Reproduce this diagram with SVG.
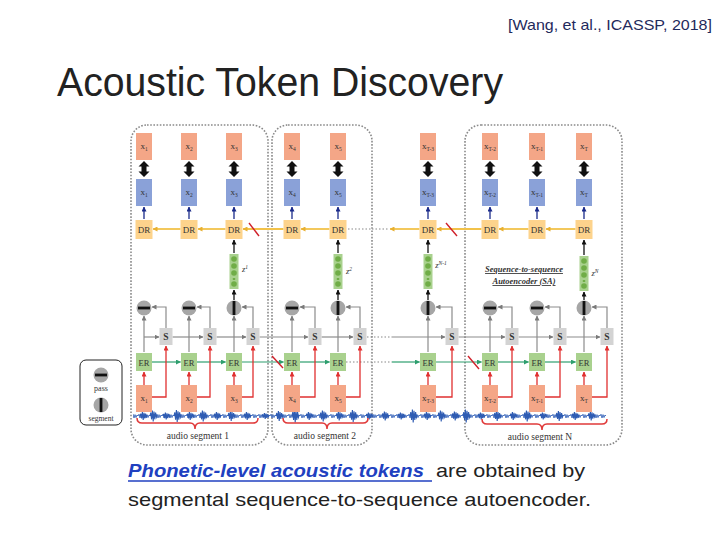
<svg xmlns="http://www.w3.org/2000/svg" xmlns:xlink="http://www.w3.org/1999/xlink" width="720" height="540" viewBox="0 0 720 540">
<style>
.ser{font-family:"Liberation Serif","DejaVu Serif",serif;fill:#333;text-anchor:middle}
.lb{font-size:9px}
.sub{font-size:5.5px}
.xo{fill:#f4a687}
.xb{fill:#8aa1d8}
.dr{fill:#fdd38c}
.er{fill:#a9d18e}
.sb{fill:#d3d3d3}
.zv{fill:#a9d18e}
.zd{fill:#70ad47}
.cir{fill:#a6a6a6}
.bar{fill:#111}
.seg{fill:none;stroke:#8a8a8a;stroke-width:1.6;stroke-dasharray:1.6 1.6}
.dots{fill:none;stroke:#888;stroke-width:1.2;stroke-dasharray:1.5 2}
.yl{stroke:#f2c24a;stroke-width:1.8;fill:none;marker-end:url(#ay)}
.gy{stroke:#8c8c8c;stroke-width:1.2;fill:none;marker-end:url(#ag)}
.gr{stroke:#2e9e6e;stroke-width:1.2;fill:none;marker-end:url(#agr)}
.rd{stroke:#e03030;stroke-width:1.3;fill:none;marker-end:url(#ar)}
.bk{stroke:#111;stroke-width:1.3;fill:none;marker-end:url(#ab)}
.nv{stroke:#1a2a8a;stroke-width:1.3;fill:none;marker-end:url(#an)}
.sl{stroke:#d0202a;stroke-width:1.4}
.dbl{fill:#111}
.wv{fill:none;stroke:#2f5cb3;stroke-width:1.1}
.br{fill:none;stroke:#e03a3a;stroke-width:1.5}
</style>
<defs>
<marker id="ay" viewBox="0 0 10 10" refX="9" refY="5" markerUnits="userSpaceOnUse" markerWidth="5" markerHeight="5" orient="auto"><path d="M0,0 L10,5 L0,10 Z" fill="#e8b030"/></marker>
<marker id="ag" viewBox="0 0 10 10" refX="9" refY="5" markerUnits="userSpaceOnUse" markerWidth="5" markerHeight="5" orient="auto"><path d="M0,0 L10,5 L0,10 Z" fill="#7a7a7a"/></marker>
<marker id="agr" viewBox="0 0 10 10" refX="9" refY="5" markerUnits="userSpaceOnUse" markerWidth="5" markerHeight="5" orient="auto"><path d="M0,0 L10,5 L0,10 Z" fill="#2e9e6e"/></marker>
<marker id="ar" viewBox="0 0 10 10" refX="9" refY="5" markerUnits="userSpaceOnUse" markerWidth="5" markerHeight="5" orient="auto"><path d="M0,0 L10,5 L0,10 Z" fill="#e03030"/></marker>
<marker id="ab" viewBox="0 0 10 10" refX="9" refY="5" markerUnits="userSpaceOnUse" markerWidth="5" markerHeight="5" orient="auto"><path d="M0,0 L10,5 L0,10 Z" fill="#111"/></marker>
<marker id="an" viewBox="0 0 10 10" refX="9" refY="5" markerUnits="userSpaceOnUse" markerWidth="5" markerHeight="5" orient="auto"><path d="M0,0 L10,5 L0,10 Z" fill="#1a2a8a"/></marker>
<pattern id="wvp" x="0" y="411" width="6" height="10" patternUnits="userSpaceOnUse"><path d="M0,5 L1,3.2 L2,7 L3,3.6 L4,6.6 L5,4 L6,5" fill="none" stroke="#3a66bb" stroke-width="0.9"/></pattern>
<path id="burst" d="M0,0 l0.8,-3 l0.8,6 l0.8,-8 l0.8,10 l0.8,-9 l0.8,7 l0.8,-6 l0.8,4 l0.8,-2" class="wv"/>
<g id="zvec"><rect x="-4.5" y="0" width="9" height="35" class="zv"/><circle cx="0" cy="5" r="2.8" class="zd"/><circle cx="0" cy="12" r="2.8" class="zd"/><circle cx="0" cy="19" r="2.8" class="zd"/><rect x="-1.2" y="24" width="2.4" height="2" class="zd"/><circle cx="0" cy="30" r="2.8" class="zd"/></g>
<g id="pass"><circle r="7.5" class="cir"/><rect x="-6" y="-1.4" width="12" height="2.8" class="bar"/></g>
<g id="segc"><circle r="7.5" class="cir"/><rect x="-1.4" y="-7" width="2.8" height="14" class="bar"/></g>
</defs>

<rect width="720" height="540" fill="#fff"/>

<text x="508" y="30" font-family="Liberation Sans, Arial, sans-serif" font-size="15" fill="#1f2a5c" textLength="204" lengthAdjust="spacingAndGlyphs">[Wang, et al., ICASSP, 2018]</text>
<text x="57" y="96" font-family="Liberation Sans, Arial, sans-serif" font-size="40" fill="#222" textLength="446" lengthAdjust="spacingAndGlyphs">Acoustic Token Discovery</text>

<!-- segment frames -->
<g id="frames">
<rect x="131" y="125" width="137" height="320" rx="16" class="seg"/>
<rect x="272" y="125" width="100" height="320" rx="16" class="seg"/>
<rect x="465" y="125" width="157" height="320" rx="16" class="seg"/>
</g>

<!-- waveform -->
<g id="waveform">
<rect x="133" y="411" width="473" height="10" fill="url(#wvp)"/>
<use xlink:href="#burst" transform="translate(140,416) scale(1,0.8)"/>
<use xlink:href="#burst" transform="translate(150,416) scale(1,1.1)"/>
<use xlink:href="#burst" transform="translate(163,416) scale(1,0.7)"/>
<use xlink:href="#burst" transform="translate(174,416) scale(1,1.2)"/>
<use xlink:href="#burst" transform="translate(187,416) scale(1,0.8)"/>
<use xlink:href="#burst" transform="translate(200,416) scale(1,1.1)"/>
<use xlink:href="#burst" transform="translate(214,416) scale(1,0.8)"/>
<use xlink:href="#burst" transform="translate(228,416) scale(1,1.0)"/>
<use xlink:href="#burst" transform="translate(244,416) scale(1,0.8)"/>
<use xlink:href="#burst" transform="translate(262,416) scale(1,0.6)"/>
<use xlink:href="#burst" transform="translate(276,416) scale(1,1.0)"/>
<use xlink:href="#burst" transform="translate(292,416) scale(1,1.3)"/>
<use xlink:href="#burst" transform="translate(306,416) scale(1,0.8)"/>
<use xlink:href="#burst" transform="translate(320,416) scale(1,1.1)"/>
<use xlink:href="#burst" transform="translate(336,416) scale(1,0.9)"/>
<use xlink:href="#burst" transform="translate(350,416) scale(1,1.2)"/>
<use xlink:href="#burst" transform="translate(366,416) scale(1,0.7)"/>
<use xlink:href="#burst" transform="translate(382,416) scale(1,0.9)"/>
<use xlink:href="#burst" transform="translate(398,416) scale(1,0.7)"/>
<use xlink:href="#burst" transform="translate(410,416) scale(1,1.3)"/>
<use xlink:href="#burst" transform="translate(424,416) scale(1,0.8)"/>
<use xlink:href="#burst" transform="translate(438,416) scale(1,1.1)"/>
<use xlink:href="#burst" transform="translate(452,416) scale(1,0.9)"/>
<use xlink:href="#burst" transform="translate(463,416) scale(1,1.3)"/>
<use xlink:href="#burst" transform="translate(478,416) scale(1,0.7)"/>
<use xlink:href="#burst" transform="translate(494,416) scale(1,1.0)"/>
<use xlink:href="#burst" transform="translate(510,416) scale(1,0.8)"/>
<use xlink:href="#burst" transform="translate(524,416) scale(1,1.1)"/>
<use xlink:href="#burst" transform="translate(540,416) scale(1,0.7)"/>
<use xlink:href="#burst" transform="translate(556,416) scale(1,1.0)"/>
<use xlink:href="#burst" transform="translate(572,416) scale(1,0.8)"/>
<use xlink:href="#burst" transform="translate(588,416) scale(1,0.9)"/>
</g>

<!-- braces and labels -->
<g id="seg-label-1">
<path class="br" d="M137,418 Q137,423 142,423 L190,423 Q195,423 195,429 Q195,423 200,423 L253,423 Q258,423 258,418"/>
<text x="198" y="439" class="ser" font-size="9.5">audio segment 1</text>
</g>
<g id="seg-label-2">
<path class="br" d="M283,418 Q283,423 288,423 L322,423 Q327,423 327,429 Q327,423 332,423 L363,423 Q368,423 368,418"/>
<text x="325" y="439" class="ser" font-size="9.5">audio segment 2</text>
</g>
<g id="seg-label-N">
<path class="br" d="M482,419 Q482,424 487,424 L537,424 Q542,424 542,430 Q542,424 547,424 L602,424 Q607,424 607,419"/>
<text x="540" y="440" class="ser" font-size="9.5">audio segment N</text>
</g>

<!-- legend -->
<g id="legend">
<rect x="80" y="360" width="42" height="65" rx="6" fill="#fff" stroke="#222" stroke-width="1"/>
<use xlink:href="#pass" x="101" y="375"/>
<text x="101" y="391" class="ser" font-size="8">pass</text>
<use xlink:href="#segc" x="101" y="405"/>
<text x="101" y="421" class="ser" font-size="7.5">segment</text>
</g>

<!-- SA label -->
<g id="sa-label">
<text x="524" y="272" class="ser" font-size="8.5" font-style="italic" font-weight="bold" text-decoration="underline">Sequence-to-sequence</text>
<text x="524" y="284" class="ser" font-size="8.5" font-style="italic" font-weight="bold" text-decoration="underline">Autoencoder (SA)</text>
</g>

<!-- connectors -->
<g id="connectors">
<path class="dbl" d="M144,161 l5.5,5.5 h-3 v5 h3 l-5.5,5.5 l-5.5,-5.5 h3 v-5 h-3 z"/>
<path class="dbl" d="M189,161 l5.5,5.5 h-3 v5 h3 l-5.5,5.5 l-5.5,-5.5 h3 v-5 h-3 z"/>
<path class="dbl" d="M234,161 l5.5,5.5 h-3 v5 h3 l-5.5,5.5 l-5.5,-5.5 h3 v-5 h-3 z"/>
<path class="dbl" d="M292,161 l5.5,5.5 h-3 v5 h3 l-5.5,5.5 l-5.5,-5.5 h3 v-5 h-3 z"/>
<path class="dbl" d="M338,161 l5.5,5.5 h-3 v5 h3 l-5.5,5.5 l-5.5,-5.5 h3 v-5 h-3 z"/>
<path class="dbl" d="M428,161 l5.5,5.5 h-3 v5 h3 l-5.5,5.5 l-5.5,-5.5 h3 v-5 h-3 z"/>
<path class="dbl" d="M490,161 l5.5,5.5 h-3 v5 h3 l-5.5,5.5 l-5.5,-5.5 h3 v-5 h-3 z"/>
<path class="dbl" d="M537,161 l5.5,5.5 h-3 v5 h3 l-5.5,5.5 l-5.5,-5.5 h3 v-5 h-3 z"/>
<path class="dbl" d="M584,161 l5.5,5.5 h-3 v5 h3 l-5.5,5.5 l-5.5,-5.5 h3 v-5 h-3 z"/>
<path class="nv" d="M144,219 V207"/>
<path class="nv" d="M189,219 V207"/>
<path class="nv" d="M234,219 V207"/>
<path class="nv" d="M292,219 V207"/>
<path class="nv" d="M338,219 V207"/>
<path class="nv" d="M428,219 V207"/>
<path class="nv" d="M490,219 V207"/>
<path class="nv" d="M537,219 V207"/>
<path class="nv" d="M584,219 V207"/>
<path class="yl" d="M180.5,229 H153"/>
<path class="yl" d="M225.5,229 H198"/>
<path class="yl" d="M283.5,229 H243"/>
<path class="yl" d="M329.5,229 H301"/>
<path class="dots" d="M348,229 H372"/>
<path class="yl" d="M419.5,229 H390"/>
<path class="dots" d="M372,229 H388"/>
<path class="yl" d="M481.5,229 H437"/>
<path class="yl" d="M528.5,229 H499"/>
<path class="yl" d="M575.5,229 H546"/>
<line class="sl" x1="249" y1="223" x2="259" y2="236"/>
<line class="sl" x1="446" y1="223" x2="457" y2="236"/>
<path class="bk" d="M234,253 V240"/>
<path class="bk" d="M234,300 V290"/>
<path class="bk" d="M338,253 V240"/>
<path class="bk" d="M338,300 V290"/>
<path class="bk" d="M428,253 V240"/>
<path class="bk" d="M428,300 V290"/>
<path class="bk" d="M584,255 V240"/>
<path class="bk" d="M584,300 V292"/>
<path class="gy" d="M144,352 V316"/>
<path class="gy" d="M189,352 V316"/>
<path class="gy" d="M234,352 V316"/>
<path class="gy" d="M292,352 V316"/>
<path class="gy" d="M338,352 V316"/>
<path class="gy" d="M428,352 V316"/>
<path class="gy" d="M490,352 V316"/>
<path class="gy" d="M537,352 V316"/>
<path class="gy" d="M584,352 V316"/>
<path class="gy" d="M166,328 V307 H152"/>
<path class="gy" d="M210,328 V307 H197"/>
<path class="gy" d="M253,328 V307 H242"/>
<path class="gy" d="M315,328 V307 H300"/>
<path class="gy" d="M360,328 V307 H346"/>
<path class="gy" d="M452,328 V307 H436"/>
<path class="gy" d="M512,328 V307 H498"/>
<path class="gy" d="M560,328 V307 H545"/>
<path class="gy" d="M607,328 V307 H592"/>
<path class="gy" d="M144,337 H159"/>
<path class="gy" d="M172.5,337 H203"/>
<path class="gy" d="M216.5,337 H246"/>
<path class="gy" d="M259.5,337 H308"/>
<path class="gy" d="M321.5,337 H353"/>
<path class="dots" d="M367,337 H392"/>
<path class="gy" d="M392,337 H445"/>
<path class="gy" d="M458.5,337 H505"/>
<path class="gy" d="M518.5,337 H553"/>
<path class="gy" d="M566.5,337 H600"/>
<path class="gr" d="M152,362 H180.5"/>
<path class="gr" d="M197,362 H225.5"/>
<path class="gr" d="M242,362 H283.5"/>
<path class="gr" d="M300,362 H329.5"/>
<path class="dots" d="M346,362 H372"/>
<path class="dots" d="M374,362 H392"/>
<path class="gr" d="M392,362 H419.5"/>
<path class="gr" d="M436,362 H481.5"/>
<path class="gr" d="M498,362 H528.5"/>
<path class="gr" d="M545,362 H575.5"/>
<line class="sl" x1="272" y1="356" x2="283" y2="368"/>
<line class="sl" x1="468" y1="356" x2="479" y2="369"/>
<path class="rd" d="M144,385 V372"/>
<path class="rd" d="M189,385 V372"/>
<path class="rd" d="M234,385 V372"/>
<path class="rd" d="M292,385 V372"/>
<path class="rd" d="M338,385 V372"/>
<path class="rd" d="M428,385 V372"/>
<path class="rd" d="M490,385 V372"/>
<path class="rd" d="M537,385 V372"/>
<path class="rd" d="M584,385 V372"/>
<path class="rd" d="M151.5,397 H166 V346"/>
<path class="rd" d="M196.5,397 H210 V346"/>
<path class="rd" d="M241.5,397 H253 V346"/>
<path class="rd" d="M299.5,397 H315 V346"/>
<path class="rd" d="M345.5,397 H360 V346"/>
<path class="rd" d="M435.5,397 H452 V346"/>
<path class="rd" d="M497.5,397 H512 V346"/>
<path class="rd" d="M544.5,397 H560 V346"/>
<path class="rd" d="M591.5,397 H607 V346" stroke-width="2.4"/>
</g>

<!-- reconstructed frames (top) -->
<g id="out-x1"><rect x="136" y="133" width="16" height="27" class="xo"/><text x="144" y="149" class="ser lb">x<tspan class="sub" dy="2">1</tspan></text></g>
<g id="out-x2"><rect x="181" y="133" width="16" height="27" class="xo"/><text x="189" y="149" class="ser lb">x<tspan class="sub" dy="2">2</tspan></text></g>
<g id="out-x3"><rect x="226" y="133" width="16" height="27" class="xo"/><text x="234" y="149" class="ser lb">x<tspan class="sub" dy="2">3</tspan></text></g>
<g id="out-x4"><rect x="284" y="133" width="16" height="27" class="xo"/><text x="292" y="149" class="ser lb">x<tspan class="sub" dy="2">4</tspan></text></g>
<g id="out-x5"><rect x="330" y="133" width="16" height="27" class="xo"/><text x="338" y="149" class="ser lb">x<tspan class="sub" dy="2">5</tspan></text></g>
<g id="out-x6"><rect x="420" y="133" width="16" height="27" class="xo"/><text x="428" y="149" class="ser lb">x<tspan class="sub" dy="2">T-3</tspan></text></g>
<g id="out-x7"><rect x="482" y="133" width="16" height="27" class="xo"/><text x="490" y="149" class="ser lb">x<tspan class="sub" dy="2">T-2</tspan></text></g>
<g id="out-x8"><rect x="529" y="133" width="16" height="27" class="xo"/><text x="537" y="149" class="ser lb">x<tspan class="sub" dy="2">T-1</tspan></text></g>
<g id="out-x9"><rect x="576" y="133" width="16" height="27" class="xo"/><text x="584" y="149" class="ser lb">x<tspan class="sub" dy="2">T</tspan></text></g>

<!-- decoded frames -->
<g id="dec-x1"><rect x="136" y="179" width="16" height="27" class="xb"/><text x="144" y="195" class="ser lb">x<tspan class="sub" dy="2">1</tspan></text></g>
<g id="dec-x2"><rect x="181" y="179" width="16" height="27" class="xb"/><text x="189" y="195" class="ser lb">x<tspan class="sub" dy="2">2</tspan></text></g>
<g id="dec-x3"><rect x="226" y="179" width="16" height="27" class="xb"/><text x="234" y="195" class="ser lb">x<tspan class="sub" dy="2">3</tspan></text></g>
<g id="dec-x4"><rect x="284" y="179" width="16" height="27" class="xb"/><text x="292" y="195" class="ser lb">x<tspan class="sub" dy="2">4</tspan></text></g>
<g id="dec-x5"><rect x="330" y="179" width="16" height="27" class="xb"/><text x="338" y="195" class="ser lb">x<tspan class="sub" dy="2">5</tspan></text></g>
<g id="dec-x6"><rect x="420" y="179" width="16" height="27" class="xb"/><text x="428" y="195" class="ser lb">x<tspan class="sub" dy="2">T-3</tspan></text></g>
<g id="dec-x7"><rect x="482" y="179" width="16" height="27" class="xb"/><text x="490" y="195" class="ser lb">x<tspan class="sub" dy="2">T-2</tspan></text></g>
<g id="dec-x8"><rect x="529" y="179" width="16" height="27" class="xb"/><text x="537" y="195" class="ser lb">x<tspan class="sub" dy="2">T-1</tspan></text></g>
<g id="dec-x9"><rect x="576" y="179" width="16" height="27" class="xb"/><text x="584" y="195" class="ser lb">x<tspan class="sub" dy="2">T</tspan></text></g>

<!-- DR -->
<g id="dr1"><rect x="135.5" y="220" width="17" height="19" class="dr"/><text x="144" y="233" class="ser" font-size="9">DR</text></g>
<g id="dr2"><rect x="180.5" y="220" width="17" height="19" class="dr"/><text x="189" y="233" class="ser" font-size="9">DR</text></g>
<g id="dr3"><rect x="225.5" y="220" width="17" height="19" class="dr"/><text x="234" y="233" class="ser" font-size="9">DR</text></g>
<g id="dr4"><rect x="283.5" y="220" width="17" height="19" class="dr"/><text x="292" y="233" class="ser" font-size="9">DR</text></g>
<g id="dr5"><rect x="329.5" y="220" width="17" height="19" class="dr"/><text x="338" y="233" class="ser" font-size="9">DR</text></g>
<g id="dr6"><rect x="419.5" y="220" width="17" height="19" class="dr"/><text x="428" y="233" class="ser" font-size="9">DR</text></g>
<g id="dr7"><rect x="481.5" y="220" width="17" height="19" class="dr"/><text x="490" y="233" class="ser" font-size="9">DR</text></g>
<g id="dr8"><rect x="528.5" y="220" width="17" height="19" class="dr"/><text x="537" y="233" class="ser" font-size="9">DR</text></g>
<g id="dr9"><rect x="575.5" y="220" width="17" height="19" class="dr"/><text x="584" y="233" class="ser" font-size="9">DR</text></g>

<!-- z vectors -->
<g id="z1"><use xlink:href="#zvec" x="234" y="254"/><text x="245" y="272" class="ser" font-size="8.5" font-style="italic">z<tspan font-size="5.5" dy="-3">1</tspan></text></g>
<g id="z2"><use xlink:href="#zvec" x="338" y="254"/><text x="349" y="274" class="ser" font-size="8.5" font-style="italic">z<tspan font-size="5.5" dy="-3">2</tspan></text></g>
<g id="zN-1"><use xlink:href="#zvec" x="428" y="254"/><text x="441" y="268" class="ser" font-size="8.5" font-style="italic">z<tspan font-size="5.5" dy="-3">N-1</tspan></text></g>
<g id="zN"><use xlink:href="#zvec" x="584" y="256"/><text x="595" y="276" class="ser" font-size="8.5" font-style="italic">z<tspan font-size="5.5" dy="-3">N</tspan></text></g>

<!-- gates -->
<g id="gate1"><use xlink:href="#pass" x="144" y="308"/></g>
<g id="gate2"><use xlink:href="#pass" x="189" y="308"/></g>
<g id="gate3"><use xlink:href="#segc" x="234" y="308"/></g>
<g id="gate4"><use xlink:href="#pass" x="292" y="308"/></g>
<g id="gate5"><use xlink:href="#segc" x="338" y="308"/></g>
<g id="gate6"><use xlink:href="#segc" x="428" y="308"/></g>
<g id="gate7"><use xlink:href="#pass" x="490" y="308"/></g>
<g id="gate8"><use xlink:href="#pass" x="537" y="308"/></g>
<g id="gate9"><use xlink:href="#segc" x="584" y="308"/></g>

<!-- S -->
<g id="s1"><rect x="159.5" y="328" width="13" height="17" class="sb"/><text x="166" y="340" class="ser" font-size="9.5" font-weight="bold">S</text></g>
<g id="s2"><rect x="203.5" y="328" width="13" height="17" class="sb"/><text x="210" y="340" class="ser" font-size="9.5" font-weight="bold">S</text></g>
<g id="s3"><rect x="246.5" y="328" width="13" height="17" class="sb"/><text x="253" y="340" class="ser" font-size="9.5" font-weight="bold">S</text></g>
<g id="s4"><rect x="308.5" y="328" width="13" height="17" class="sb"/><text x="315" y="340" class="ser" font-size="9.5" font-weight="bold">S</text></g>
<g id="s5"><rect x="353.5" y="328" width="13" height="17" class="sb"/><text x="360" y="340" class="ser" font-size="9.5" font-weight="bold">S</text></g>
<g id="s6"><rect x="445.5" y="328" width="13" height="17" class="sb"/><text x="452" y="340" class="ser" font-size="9.5" font-weight="bold">S</text></g>
<g id="s7"><rect x="505.5" y="328" width="13" height="17" class="sb"/><text x="512" y="340" class="ser" font-size="9.5" font-weight="bold">S</text></g>
<g id="s8"><rect x="553.5" y="328" width="13" height="17" class="sb"/><text x="560" y="340" class="ser" font-size="9.5" font-weight="bold">S</text></g>
<g id="s9"><rect x="600.5" y="328" width="13" height="17" class="sb"/><text x="607" y="340" class="ser" font-size="9.5" font-weight="bold">S</text></g>

<!-- ER -->
<g id="er1"><rect x="136" y="353" width="16" height="18" class="er"/><text x="144" y="365.5" class="ser" font-size="8.5">ER</text></g>
<g id="er2"><rect x="181" y="353" width="16" height="18" class="er"/><text x="189" y="365.5" class="ser" font-size="8.5">ER</text></g>
<g id="er3"><rect x="226" y="353" width="16" height="18" class="er"/><text x="234" y="365.5" class="ser" font-size="8.5">ER</text></g>
<g id="er4"><rect x="284" y="353" width="16" height="18" class="er"/><text x="292" y="365.5" class="ser" font-size="8.5">ER</text></g>
<g id="er5"><rect x="330" y="353" width="16" height="18" class="er"/><text x="338" y="365.5" class="ser" font-size="8.5">ER</text></g>
<g id="er6"><rect x="420" y="353" width="16" height="18" class="er"/><text x="428" y="365.5" class="ser" font-size="8.5">ER</text></g>
<g id="er7"><rect x="482" y="353" width="16" height="18" class="er"/><text x="490" y="365.5" class="ser" font-size="8.5">ER</text></g>
<g id="er8"><rect x="529" y="353" width="16" height="18" class="er"/><text x="537" y="365.5" class="ser" font-size="8.5">ER</text></g>
<g id="er9"><rect x="576" y="353" width="16" height="18" class="er"/><text x="584" y="365.5" class="ser" font-size="8.5">ER</text></g>

<!-- input frames -->
<g id="in-x1"><rect x="136" y="385" width="16" height="27" class="xo"/><text x="144" y="401" class="ser lb">x<tspan class="sub" dy="2">1</tspan></text></g>
<g id="in-x2"><rect x="181" y="385" width="16" height="27" class="xo"/><text x="189" y="401" class="ser lb">x<tspan class="sub" dy="2">2</tspan></text></g>
<g id="in-x3"><rect x="226" y="385" width="16" height="27" class="xo"/><text x="234" y="401" class="ser lb">x<tspan class="sub" dy="2">3</tspan></text></g>
<g id="in-x4"><rect x="284" y="385" width="16" height="27" class="xo"/><text x="292" y="401" class="ser lb">x<tspan class="sub" dy="2">4</tspan></text></g>
<g id="in-x5"><rect x="330" y="385" width="16" height="27" class="xo"/><text x="338" y="401" class="ser lb">x<tspan class="sub" dy="2">5</tspan></text></g>
<g id="in-x6"><rect x="420" y="385" width="16" height="27" class="xo"/><text x="428" y="401" class="ser lb">x<tspan class="sub" dy="2">T-3</tspan></text></g>
<g id="in-x7"><rect x="482" y="385" width="16" height="27" class="xo"/><text x="490" y="401" class="ser lb">x<tspan class="sub" dy="2">T-2</tspan></text></g>
<g id="in-x8"><rect x="529" y="385" width="16" height="27" class="xo"/><text x="537" y="401" class="ser lb">x<tspan class="sub" dy="2">T-1</tspan></text></g>
<g id="in-x9"><rect x="576" y="385" width="16" height="27" class="xo"/><text x="584" y="401" class="ser lb">x<tspan class="sub" dy="2">T</tspan></text></g>

<!-- caption -->
<g id="caption" font-family="Liberation Sans, Arial, sans-serif" font-size="19">
<text x="128" y="477" fill="#2040c0" font-style="italic" font-weight="bold" textLength="296" lengthAdjust="spacingAndGlyphs">Phonetic-level acoustic tokens</text>
<line x1="128" y1="481" x2="432" y2="481" stroke="#2040c0" stroke-width="1.3"/>
<text x="436" y="477" fill="#222" textLength="149" lengthAdjust="spacingAndGlyphs">are obtained by</text>
<text x="128" y="506" fill="#222" textLength="463" lengthAdjust="spacingAndGlyphs">segmental sequence-to-sequence autoencoder.</text>
</g>
</svg>
